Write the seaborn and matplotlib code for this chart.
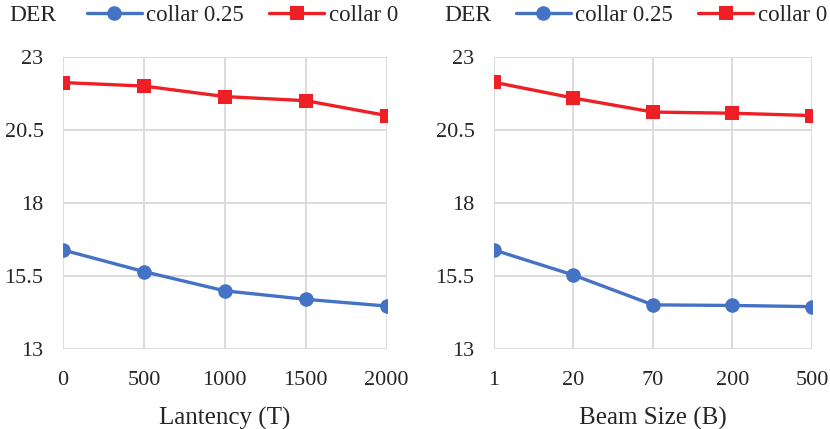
import seaborn as sns
import matplotlib.pyplot as plt
import pandas as pd
import numpy as np

# values
latency = ["0", "500", "1000", "1500", "2000"]
lat_collar025 = [16.39, 15.65, 14.99, 14.70, 14.47]
lat_collar0 = [22.12, 22.00, 21.64, 21.50, 20.99]

beam = ["1", "20", "70", "200", "500"]
beam_collar025 = [16.39, 15.53, 14.51, 14.49, 14.45]
beam_collar0 = [22.13, 21.59, 21.11, 21.07, 20.99]

yticks = [13, 15.5, 18, 20.5, 23]
series_names = ["collar 0.25", "collar 0"]

BLUE = "#4472C4"
RED = "#EE1F25"

sns.set_theme(style="whitegrid")
plt.rcParams["font.family"] = ["Liberation Serif", "DejaVu Serif"]
plt.rcParams["text.color"] = "#262626"


def make_df(cats, s1, s2):
    pos = np.arange(len(cats))
    return pd.DataFrame({
        "pos": np.concatenate([pos, pos]),
        "DER": s1 + s2,
        "series": [series_names[0]] * len(cats) + [series_names[1]] * len(cats),
    })


fig = plt.figure(figsize=(8.3, 4.29), dpi=100)
ax1 = fig.add_axes([0.0759, 0.1865, 0.390, 0.681])
ax2 = fig.add_axes([0.5952, 0.1865, 0.383, 0.681])

panels = [
    (ax1, latency, lat_collar025, lat_collar0, "Lantency (T)", -0.165, 0.093),
    (ax2, beam, beam_collar025, beam_collar0, "Beam Size (B)", -0.155, 0.088),
]

for ax, cats, s1, s2, xlabel, der_x, leg_x in panels:
    df = make_df(cats, s1, s2)
    sns.lineplot(data=df, x="pos", y="DER", hue="series", style="series",
                 markers={"collar 0.25": "o", "collar 0": "s"}, dashes=False,
                 palette={"collar 0.25": BLUE, "collar 0": RED},
                 linewidth=2.4, markersize=10.5, markeredgewidth=0, ax=ax)
    ax.set_xlim(0, len(cats) - 1)
    ax.set_ylim(13, 23)
    ax.set_xticks(np.arange(len(cats)))
    ax.set_xticklabels(cats)
    ax.set_yticks(yticks)
    ax.set_yticklabels([f"{t:g}" for t in yticks])
    ax.grid(True, color="#D9D9D9", linewidth=1.3)
    for sp in ax.spines.values():
        sp.set_visible(False)
    ax.tick_params(axis="both", length=0, labelsize=16, colors="#262626")
    ax.tick_params(axis="x", pad=16)
    ax.tick_params(axis="y", pad=14)
    ax.set_xlabel(xlabel, fontsize=18, color="#262626", labelpad=12)
    ax.set_ylabel("")
    ax.text(der_x, 1.142, "DER", transform=ax.transAxes, fontsize=17,
            ha="left", va="center", color="#262626")
    ax.legend(loc="center left", bbox_to_anchor=(leg_x - 0.02, 1.142), ncol=2,
              frameon=False, fontsize=16.5, handlelength=2.4, handletextpad=0.2,
              columnspacing=1.1, borderaxespad=0, borderpad=0)

fig.savefig("out.png", dpi=100)
